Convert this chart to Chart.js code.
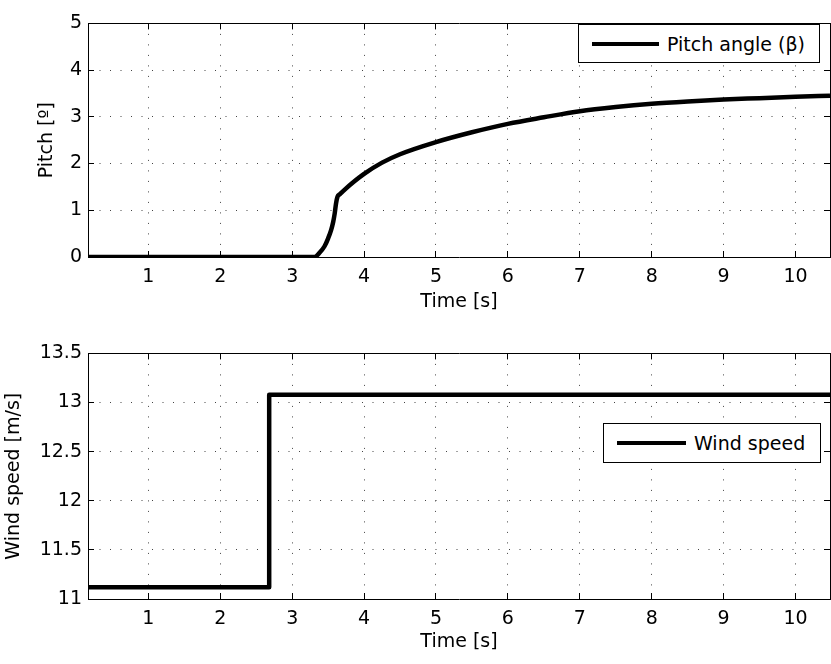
<!DOCTYPE html>
<html lang="en">
<head>
    <meta charset="UTF-8">
    <title>Pitch angle and wind speed</title>
    <script src="https://cdn.jsdelivr.net/npm/chart.js"></script>
    <style>
        body {
            margin: 0;
            padding: 0;
            background-color: #fff;
        }

        #wrap {
            position: relative;
            width: 831px;
            height: 664px;
        }

        canvas {
            position: absolute;
            left: 0;
        }

        .legend {
            position: absolute;
            box-sizing: border-box;
            border: 1px solid #000;
            background: #fff;
            display: flex;
            align-items: center;
            font-family: 'DejaVu Sans', sans-serif;
            font-size: 19px;
            color: #000;
            z-index: 2;
        }

        .legend .sample {
            height: 4px;
            background: #000;
            margin-left: 13px;
            margin-right: 8px;
        }
    </style>
</head>
<body>

<div id="wrap">
    <canvas id="pitchChart" width="831" height="330" style="top:0"></canvas>
    <canvas id="windChart" width="831" height="334" style="top:330px"></canvas>

    <!-- legends drawn as boxes on top of the plots -->
    <div class="legend" style="left:578px;top:24px;width:242px;height:39px">
        <span class="sample" style="width:67px"></span><span>Pitch angle (β)</span>
    </div>
    <div class="legend" style="left:603px;top:423px;width:218px;height:40px">
        <span class="sample" style="width:69px"></span><span>Wind speed</span>
    </div>
</div>

<script>
    // time axis
    const timeMin = 0.16;
    const timeMax = 10.48;
    const timeTicks = [1, 2, 3, 4, 5, 6, 7, 8, 9, 10];

    // pitch angle (deg)
    const pitchTime  = [0.16, 3.31, 3.38, 3.45, 3.50, 3.54, 3.57, 3.59, 3.61, 3.63, 3.66, 3.75, 3.84, 4.0,
                        4.25, 4.5, 5.0, 5.5, 6.0, 6.5, 7.0, 7.5, 8.0, 8.5, 9.0, 9.5, 10.0, 10.48];
    const pitchAngle = [0, 0, 0.09, 0.23, 0.40, 0.57, 0.75, 0.92, 1.15, 1.29, 1.34, 1.47, 1.59, 1.78,
                        2.02, 2.20, 2.46, 2.67, 2.85, 2.99, 3.12, 3.21, 3.28, 3.33, 3.37, 3.40, 3.43, 3.45];
    const pitchTicks = [0, 1, 2, 3, 4, 5];

    // wind speed step (m/s)
    const windTime  = [0.16, 2.68, 2.68, 10.48];
    const windSpeed = [11.12, 11.12, 13.08, 13.08];
    const windTicks = [11, 11.5, 12, 12.5, 13, 13.5];

    Chart.defaults.font.family = "'DejaVu Sans', sans-serif";
    Chart.defaults.font.size = 19;
    Chart.defaults.color = '#000';

    const tickLen = -6;   // negative = tick marks point into the plot, matlab style

    const gridStyle = {
        color: '#444',
        lineWidth: 1,
        drawTicks: true,
        tickLength: tickLen,
        tickColor: '#000',
        tickWidth: 1,
        tickBorderDash: [],
        borderDash: [1, 9.5]
    };
    const borderStyle = { color: '#000', width: 1, dash: [1, 9.5] };

    function setTicks(list) {
        return scale => { scale.ticks = list.map(v => ({ value: v })); };
    }

    // axis without labels, only used to close the box and draw the mirrored ticks
    function mirrorAxis(position, min, max, list) {
        const horizontal = position === 'top';
        return {
            type: 'linear',
            position: position,
            min: min,
            max: max,
            afterBuildTicks: setTicks(list),
            afterFit: s => { if (horizontal) s.height = 0; else s.width = 0; },
            ticks: { display: false },
            grid: { drawOnChartArea: false, drawTicks: true, tickLength: tickLen, color: '#000', tickColor: '#000' },
            border: { color: '#000', width: 1 }
        };
    }

    function buildChart(id, cfg) {
        const ctx = document.getElementById(id).getContext('2d');
        return new Chart(ctx, {
            type: 'line',
            data: {
                datasets: [{
                    data: cfg.xs.map((t, i) => ({ x: t, y: cfg.ys[i] })),
                    borderColor: '#000',
                    borderWidth: 4.5,
                    borderJoinStyle: 'round',
                    cubicInterpolationMode: cfg.smooth ? 'monotone' : 'default',
                    pointRadius: 0,
                    tension: 0,
                    fill: false,
                    xAxisID: 'x',
                    yAxisID: 'y'
                }]
            },
            options: {
                responsive: false,
                animation: false,
                devicePixelRatio: 1,
                layout: { padding: { top: cfg.padTop, right: 1, bottom: 0, left: 0 } },
                scales: {
                    x: {
                        type: 'linear',
                        position: 'bottom',
                        min: timeMin,
                        max: timeMax,
                        afterBuildTicks: setTicks(timeTicks),
                        afterFit: s => { s.height = cfg.xHeight; },
                        ticks: { padding: 15, autoSkip: false, maxRotation: 0, callback: v => String(v) },
                        grid: gridStyle,
                        border: borderStyle,
                        title: { display: true, text: 'Time [s]', padding: { top: 0, bottom: cfg.xTitlePad } }
                    },
                    y: {
                        type: 'linear',
                        position: 'left',
                        min: cfg.yTicks[0],
                        max: cfg.yTicks[cfg.yTicks.length - 1],
                        afterBuildTicks: setTicks(cfg.yTicks),
                        afterFit: s => { s.width = 88; },
                        ticks: { padding: 12, callback: v => String(v) },
                        grid: gridStyle,
                        border: borderStyle,
                        title: { display: true, text: cfg.yTitle, padding: { top: cfg.yTitlePad, bottom: 0 } }
                    },
                    x2: mirrorAxis('top', timeMin, timeMax, timeTicks),
                    y2: mirrorAxis('right', cfg.yTicks[0], cfg.yTicks[cfg.yTicks.length - 1], cfg.yTicks)
                },
                plugins: {
                    legend: { display: false },
                    tooltip: { enabled: false }
                }
            }
        });
    }

    buildChart('pitchChart', {
        xs: pitchTime, ys: pitchAngle, yTicks: pitchTicks, smooth: true,
        yTitle: 'Pitch [º]', yTitlePad: 36,
        padTop: 13, xHeight: 73, xTitlePad: 17
    });

    buildChart('windChart', {
        xs: windTime, ys: windSpeed, yTicks: windTicks, smooth: false,
        yTitle: 'Wind speed [m/s]', yTitlePad: 3,
        padTop: 23, xHeight: 65, xTitlePad: 11
    });
</script>

</body>
</html>
